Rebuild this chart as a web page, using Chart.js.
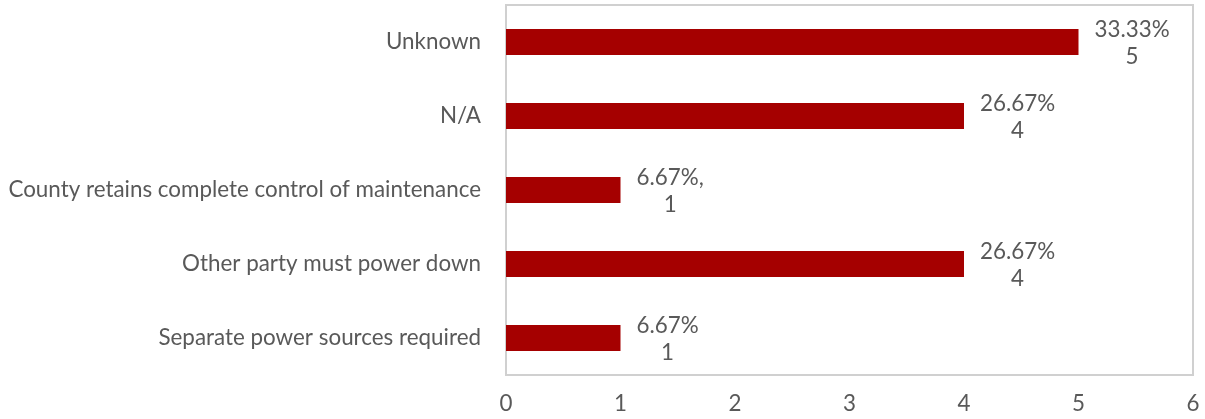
<!DOCTYPE html>
<html>
<head>
<meta charset="utf-8">
<script src="https://cdn.jsdelivr.net/npm/chart.js@4"></script>
<style>
  html, body { margin: 0; padding: 0; background: #ffffff; }
  #wrap { width: 1205px; height: 419px; position: relative; }
</style>
</head>
<body>
<div id="wrap"><canvas id="chart"></canvas></div>
<script>
// Response categories, top to bottom
const categories = [
  'Unknown',
  'N/A',
  'County retains complete control of maintenance',
  'Other party must power down',
  'Separate power sources required'
];
// Number of responses per category
const counts = [5, 4, 1, 4, 1];
// Share of responses, as printed beside each bar
const percentLabels = ['33.33%', '26.67%', '6.67%,', '26.67%', '6.67%'];
// Horizontal axis ticks
const xTicks = [0, 1, 2, 3, 4, 5, 6];

const FONT = 'Lato, "Open Sans", sans-serif';
const FONT_SIZE = 22.4;
const TEXT = '#595959';

// Light grey frame around the plotting area
const frame = {
  id: 'frame',
  beforeDatasetsDraw(chart) {
    const { ctx, chartArea: a } = chart;
    ctx.save();
    ctx.strokeStyle = '#d0d0d0';
    ctx.lineWidth = 2;
    ctx.strokeRect(a.left, a.top, a.right - a.left, a.bottom - a.top);
    ctx.restore();
  }
};

// Two-line value labels just past the end of each bar
const valueLabels = {
  id: 'valueLabels',
  afterDatasetsDraw(chart) {
    const { ctx } = chart;
    const meta = chart.getDatasetMeta(0);
    ctx.save();
    ctx.font = FONT_SIZE + 'px ' + FONT;
    ctx.fillStyle = TEXT;
    ctx.textAlign = 'center';
    ctx.textBaseline = 'middle';
    meta.data.forEach((bar, i) => {
      const lines = [percentLabels[i], String(counts[i])];
      const w = Math.max(...lines.map(s => ctx.measureText(s).width));
      const cx = bar.x + 16 + w / 2;
      ctx.fillText(lines[0], cx, bar.y - 12);
      ctx.fillText(lines[1], cx, bar.y + 15);
    });
    ctx.restore();
  }
};

// Keep the plotting area exactly where the layout padding puts it
function noAutoPadding(scale) {
  scale.paddingTop = 0;
  scale.paddingBottom = 0;
  scale.paddingLeft = 0;
  scale.paddingRight = 0;
}

new Chart(document.getElementById('chart'), {
  type: 'bar',
  data: {
    labels: categories,
    datasets: [{
      data: counts,
      backgroundColor: '#a50000',
      borderWidth: 0,
      categoryPercentage: 1,
      barPercentage: 0.35
    }]
  },
  options: {
    indexAxis: 'y',
    responsive: true,
    maintainAspectRatio: false,
    animation: false,
    layout: { padding: { top: 5, right: 12, left: 0, bottom: 0 } },
    plugins: {
      legend: { display: false },
      tooltip: { enabled: false }
    },
    scales: {
      x: {
        min: xTicks[0],
        max: xTicks[xTicks.length - 1],
        afterBuildTicks(scale) { scale.ticks = xTicks.map(v => ({ value: v })); },
        grid: { display: false, drawTicks: false },
        border: { display: false },
        ticks: { color: TEXT, font: { family: FONT, size: FONT_SIZE }, padding: 15, maxRotation: 0 },
        afterFit(scale) { scale.height = 44; noAutoPadding(scale); }
      },
      y: {
        grid: { display: false, drawTicks: false },
        border: { display: false },
        ticks: { color: TEXT, font: { family: FONT, size: FONT_SIZE }, padding: 25 },
        afterFit(scale) { scale.width = 506; noAutoPadding(scale); }
      }
    }
  },
  plugins: [frame, valueLabels]
});
</script>
</body>
</html>
